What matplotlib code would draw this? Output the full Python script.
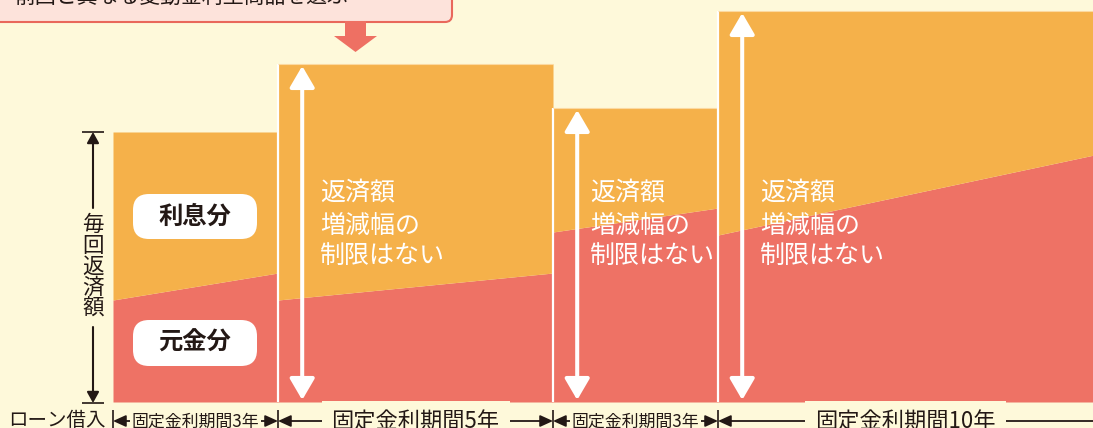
import numpy as np
import matplotlib
matplotlib.use('Agg')
import matplotlib.pyplot as plt
from matplotlib.patches import FancyBboxPatch, Polygon, FancyArrowPatch

plt.rcParams['font.family'] = ['Noto Sans CJK JP', 'DejaVu Sans']

# ---- data ----
periods = ['固定金利期間3年', '固定金利期間5年', '固定金利期間3年', '固定金利期間10年']
years = [3, 5, 3, 10]
total_payment = [270, 338, 294, 391]
principal_start = [102, 102, 170, 167]
principal_end = [129, 129, 194, 284]
bar_note = ['返済額', '増減幅の', '制限はない']
top_title = '前回と異なる変動金利型商品を選ぶ'
axis_label = '毎回返済額'
part_labels = ['利息分', '元金分']
start_label = 'ローン借入'

# ---- style ----
BG = '#FEF9DA'
ORANGE = '#F5B14A'
RED = '#EE7265'
DARK = '#231815'
W, H = 1093, 428
PX_PER_YEAR = 55.0
X0, Y0 = 113, 402

fig = plt.figure(figsize=(W / 100, H / 100), dpi=100)
fig.patch.set_facecolor(BG)

ax = fig.add_axes([0, 0, 1, 1])
ax.set_xlim(-X0 / PX_PER_YEAR, (W - X0) / PX_PER_YEAR)
ax.set_ylim(-(H - Y0), Y0)
ax.axis('off')
xmax = ax.get_xlim()[1]

px = fig.add_axes([0, 0, 1, 1], facecolor='none')
px.set_xlim(0, W)
px.set_ylim(H, 0)
px.axis('off')

starts = np.concatenate([[0], np.cumsum(years)[:-1]])
label_sizes = [12.2, 16, 12.2, 16]
note_dx = [None, 0.76, 0.68, 0.76]

for i, (s, n) in enumerate(zip(starts, years)):
    e = s + n
    ax.fill_between([s, e], [0, 0], [principal_start[i], principal_end[i]],
                    color=RED, lw=0, zorder=1)
    ax.fill_between([s, e], [principal_start[i], principal_end[i]],
                    [total_payment[i]] * 2, color=ORANGE, lw=0, zorder=1)
    if i > 0:
        ax.vlines(s, 0, total_payment[i], color='white', lw=1.6, zorder=2)
        ax.hlines(total_payment[i], s, e, color='#FCD9A0', lw=0.8, zorder=2)
        xa = s + 0.44
        arr = FancyArrowPatch((xa, 2), (xa, total_payment[i] - 2),
                              arrowstyle='<|-|>,head_length=0.65,head_width=0.38',
                              mutation_scale=20, color='white', lw=2.9,
                              shrinkA=0, shrinkB=0, zorder=3)
        ax.add_patch(arr)
        for k, (line, yp) in enumerate(zip(bar_note, [193, 226, 256])):
            ax.text(s + note_dx[i], Y0 - yp, line, color='white', fontsize=18,
                    ha='left', va='center', zorder=4)

    # bottom period labels
    yb = -19
    ax.annotate('', xy=(s, yb), xytext=(e, yb),
                arrowprops=dict(arrowstyle='<|-|>,head_length=0.55,head_width=0.25',
                                mutation_scale=14, color=DARK, lw=1.3,
                                shrinkA=0, shrinkB=0), zorder=5)
    xc = (s + min(e, xmax)) / 2
    ax.text(xc, yb - 1, periods[i], fontsize=label_sizes[i], color=DARK,
            ha='center', va='center', zorder=6,
            bbox=dict(boxstyle='square,pad=0.1' if label_sizes[i] < 13 else 'square,pad=0.45',
                      fc=BG, ec='none'))
    ax.vlines(s, -8, -27, color=DARK, lw=1.2, zorder=6)

# ---- pixel-space decorations ----
box = FancyBboxPatch((-20, -30), 472, 52, boxstyle='round,pad=0,rounding_size=7',
                     fc='#FDE3DB', ec='#E9685B', lw=1.5, zorder=5)
px.add_patch(box)
px.text(15, -3, top_title, fontsize=15, color=DARK, ha='left', va='center', zorder=6)
px.add_patch(Polygon([(345, 21), (366, 21), (366, 36), (377, 36), (355.5, 52),
                      (334, 36), (345, 36)], closed=True, fc='#EE7063', ec='none', zorder=6))

# left axis
for tip, tail in [(132, 208), (403, 327)]:
    px.annotate('', xy=(93, tip), xytext=(93, tail),
                arrowprops=dict(arrowstyle='-|>,head_length=0.65,head_width=0.36',
                                mutation_scale=10, color=DARK, lw=1.5,
                                shrinkA=0, shrinkB=0))
px.hlines([132, 403], 82, 104, color=DARK, lw=1.2)
for k, ch in enumerate(axis_label):
    px.text(93, 224.5 + 21 * k, ch, fontsize=15.5, color=DARK, ha='center', va='center')

# part labels
for lab, (y0, hh) in zip(part_labels, [(194, 45), (320, 46)]):
    px.add_patch(FancyBboxPatch((133, y0), 124, hh, boxstyle='round,pad=0,rounding_size=16',
                                fc='white', ec='none', zorder=5))
    px.text(195, y0 + hh / 2, lab, fontsize=17.5, fontweight='bold', color=DARK,
            ha='center', va='center', zorder=6)

px.text(8, 420, start_label, fontsize=14, color=DARK, ha='left', va='center')

fig.savefig('out.png', dpi=100, facecolor=BG)
